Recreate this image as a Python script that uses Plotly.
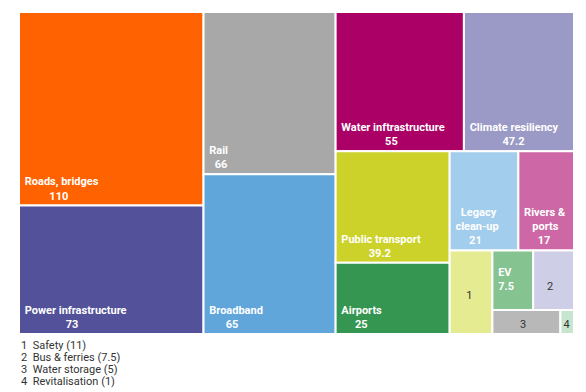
import plotly.graph_objects as go

labels = ["Roads, bridges", "Power infrastructure", "Rail", "Broadband",
          "Water inftrastructure", "Climate resiliency", "Public transport",
          "Airports", "Legacy clean-up", "Rivers & ports", "Safety", "EV",
          "Bus & ferries", "Water storage", "Revitalisation"]
values = [110, 73, 66, 65, 55, 47.2, 39.2, 25, 21, 17, 11, 7.5, 7.5, 5, 1]
display = ["Roads, bridges", "Power infrastructure", "Rail", "Broadband",
           "Water inftrastructure", "Climate resiliency", "Public transport",
           "Airports", "Legacy<br>clean-up", "Rivers &<br>ports", "1", "EV",
           "2", "3", "4"]
value_labels = ["110", "73", "66", "65", "55", "47.2", "39.2", "25", "21", "17",
                "", "7.5", "", "", ""]
colors = ["#FF6200", "#525199", "#A8A8A8", "#60A6DA", "#AB0066", "#9B99C6",
          "#CDD22A", "#349651", "#A3CDEC", "#CD67A5", "#E5EB91", "#85C391",
          "#CECEE6", "#B8B8B8", "#C8E6CF"]
text_colors = ["white"] * 10 + ["#333333", "white", "#333333", "#333333", "#333333"]
footnote = ["1  Safety (11)", "2  Bus & ferries (7.5)", "3  Water storage (5)",
            "4  Revitalisation (1)"]

NB = "\u00a0"
# text placement tweaks (indent in spaces, lines lifted) - styling only
small_shift = {"1": (5, 2), "2": (4, 1), "3": (9, 0), "4": (0, 0)}

templates = []
for d, v in zip(display, value_labels):
    if v:
        lines = d.split("<br>") + [v]
        if d == "EV":
            templates.append("<b>" + NB + d + "</b><br><b>" + NB + "%{value}</b><br>" + NB)
            continue
        w = max(len(s) for s in lines)
        out = []
        for s in lines:
            pad = max(0, int(round((w - len(s)) * 0.85)))
            txt = "%{value}" if s is v else s
            out.append("<b>" + NB * (pad + 1) + txt + "</b>")
        templates.append("<br>".join(out))
    else:
        ind, lift = small_shift[d]
        templates.append(NB * ind + d + "<br>" * lift + (NB if lift else ""))

fig = go.Figure(go.Treemap(
    labels=labels,
    parents=[""] * len(labels),
    values=values,
    sort=True,
    texttemplate=templates,
    textposition="bottom left",
    textfont=dict(family="Liberation Sans Narrow, Roboto, sans-serif", size=11,
                  color=text_colors),
    marker=dict(colors=colors, line=dict(color="white", width=2),
                pad=dict(t=0, l=0, r=0, b=0)),
    tiling=dict(packing="squarify", squarifyratio=1, pad=0),
    pathbar=dict(visible=False),
    hoverinfo="label+value",
    domain=dict(x=[19 / 586, 574 / 586], y=[1 - 334 / 392, 1 - 12 / 392]),
))

for i, line in enumerate(footnote):
    fig.add_annotation(
        text=line, x=19 / 586, y=1 - (345 + 12 * i) / 392,
        xref="paper", yref="paper", xanchor="left", yanchor="middle",
        showarrow=False, align="left",
        font=dict(family="Liberation Sans Narrow, Roboto, sans-serif", size=11,
                  color="#333333"),
    )

fig.update_layout(
    width=586, height=392,
    margin=dict(l=0, r=0, t=0, b=0),
    paper_bgcolor="white", plot_bgcolor="white",
    uniformtext=dict(minsize=11, mode="show"),
)

fig.write_html("out.html", config={"displayModeBar": False},
               post_script="document.body.style.margin='0';")
